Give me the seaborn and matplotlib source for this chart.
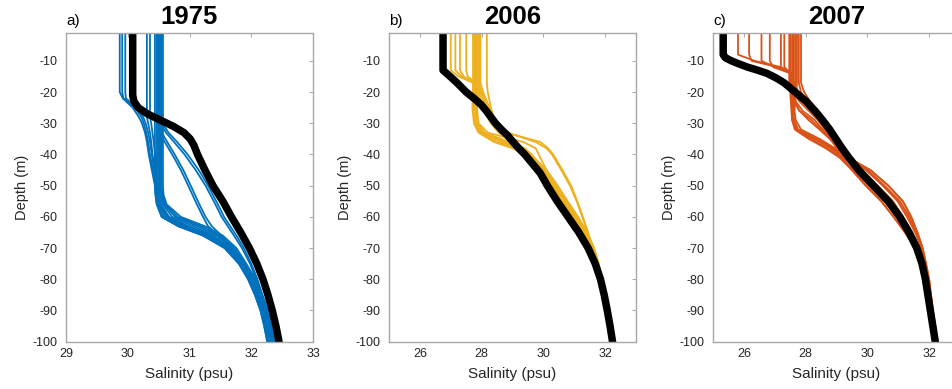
import matplotlib
matplotlib.use("Agg")
import matplotlib.pyplot as plt
import numpy as np
import pandas as pd
import seaborn as sns

# ---------------- Panel a) 1975 ----------------
YEAR_A = "1975"
DEPTH_A = [-1, -20, -22, -25, -28, -30, -33, -36, -40, -45, -50, -53, -56, -60,
           -63, -66, -70, -75, -80, -85, -90, -95, -100]
MEAN_DEPTH_A = [-1, -21, -23, -25, -27, -29, -31, -33, -35, -37, -40, -45, -50, -55,
                -60, -65, -70, -75, -80, -85, -90, -95, -100]
MEAN_A = [30.08, 30.08, 30.10, 30.17, 30.32, 30.53, 30.74, 30.91, 31.01, 31.07, 31.13, 31.25,
          31.38, 31.54, 31.68, 31.83, 31.97, 32.09, 32.19, 32.27, 32.34, 32.40, 32.45]
PROFILES_A = [
    [29.87, 29.87, 29.92, 30.08, 30.18, 30.23, 30.28, 30.31, 30.34, 30.39, 30.44, 30.45, 30.47, 30.55, 30.82, 31.22, 31.57, 31.80, 31.95, 32.06, 32.15, 32.21, 32.26],
    [29.91, 29.91, 29.93, 30.12, 30.22, 30.26, 30.30, 30.33, 30.36, 30.41, 30.45, 30.46, 30.49, 30.58, 30.86, 31.25, 31.58, 31.81, 31.96, 32.07, 32.16, 32.22, 32.27],
    [29.96, 29.96, 29.97, 30.15, 30.25, 30.29, 30.33, 30.36, 30.39, 30.43, 30.47, 30.48, 30.52, 30.63, 30.94, 31.31, 31.62, 31.83, 31.98, 32.09, 32.18, 32.24, 32.29],
    [30.31, 30.31, 30.31, 30.31, 30.31, 30.33, 30.36, 30.38, 30.40, 30.44, 30.47, 30.48, 30.51, 30.62, 30.92, 31.30, 31.61, 31.83, 31.98, 32.09, 32.18, 32.24, 32.29],
    [30.36, 30.36, 30.36, 30.36, 30.36, 30.38, 30.40, 30.42, 30.44, 30.46, 30.48, 30.49, 30.53, 30.66, 30.98, 31.34, 31.64, 31.85, 32.00, 32.11, 32.20, 32.26, 32.31],
    [30.44, 30.44, 30.44, 30.44, 30.44, 30.44, 30.44, 30.44, 30.44, 30.44, 30.44, 30.45, 30.47, 30.55, 30.82, 31.22, 31.57, 31.80, 31.95, 32.06, 32.15, 32.21, 32.26],
    [30.47, 30.47, 30.47, 30.47, 30.47, 30.47, 30.47, 30.47, 30.47, 30.47, 30.47, 30.48, 30.51, 30.61, 30.90, 31.28, 31.60, 31.82, 31.97, 32.08, 32.17, 32.23, 32.28],
    [30.49, 30.49, 30.49, 30.49, 30.49, 30.49, 30.49, 30.49, 30.49, 30.49, 30.49, 30.50, 30.54, 30.67, 30.98, 31.34, 31.64, 31.84, 31.99, 32.10, 32.19, 32.25, 32.30],
    [30.51, 30.51, 30.51, 30.51, 30.51, 30.51, 30.51, 30.51, 30.51, 30.51, 30.51, 30.52, 30.57, 30.72, 31.06, 31.39, 31.67, 31.86, 32.01, 32.12, 32.21, 32.27, 32.32],
    [30.53, 30.53, 30.53, 30.53, 30.53, 30.53, 30.53, 30.53, 30.53, 30.53, 30.53, 30.54, 30.59, 30.77, 31.13, 31.44, 31.70, 31.88, 32.03, 32.14, 32.23, 32.29, 32.34],
    [30.55, 30.55, 30.55, 30.55, 30.55, 30.55, 30.55, 30.55, 30.55, 30.55, 30.55, 30.56, 30.61, 30.81, 31.19, 31.49, 31.73, 31.90, 32.05, 32.16, 32.25, 32.31, 32.36],
    [30.57, 30.57, 30.57, 30.57, 30.57, 30.57, 30.57, 30.57, 30.57, 30.57, 30.57, 30.58, 30.63, 30.86, 31.25, 31.54, 31.76, 31.92, 32.07, 32.18, 32.27, 32.33, 32.38],
    [30.50, 30.50, 30.50, 30.50, 30.50, 30.50, 30.51, 30.60, 30.72, 30.86, 30.98, 31.05, 31.12, 31.22, 31.30, 31.47, 31.68, 31.87, 32.02, 32.13, 32.22, 32.29, 32.34],
    [30.53, 30.53, 30.53, 30.53, 30.53, 30.53, 30.55, 30.64, 30.76, 30.90, 31.02, 31.09, 31.16, 31.26, 31.36, 31.52, 31.70, 31.88, 32.03, 32.14, 32.23, 32.30, 32.35],
    [30.51, 30.51, 30.51, 30.51, 30.51, 30.53, 30.62, 30.75, 30.92, 31.10, 31.26, 31.34, 31.42, 31.52, 31.62, 31.72, 31.85, 31.98, 32.08, 32.16, 32.24, 32.30, 32.36],
    [30.54, 30.54, 30.54, 30.54, 30.54, 30.56, 30.66, 30.80, 30.97, 31.15, 31.30, 31.38, 31.46, 31.56, 31.66, 31.76, 31.88, 32.00, 32.10, 32.18, 32.26, 32.32, 32.38],
]

# ---------------- Panel b) 2006 ----------------
YEAR_B = "2006"
DEPTH_B = [-1, -13, -15, -17, -20, -25, -30, -33, -36, -38, -40, -45, -50, -55, -60,
           -65, -70, -75, -80, -90, -100]
MEAN_DEPTH_B = [-1, -13, -15, -17, -20, -22, -24, -26, -28, -30, -32, -34, -36, -38, -40,
                -43, -46, -50, -55, -60, -65, -70, -75, -80, -85, -90, -95, -100]
MEAN_B = [26.75, 26.75, 26.98, 27.20, 27.50, 27.75, 27.98, 28.15, 28.30, 28.45, 28.64, 28.85,
          29.02, 29.20, 29.40, 29.65, 29.90, 30.13, 30.45, 30.80, 31.15, 31.45, 31.68, 31.85,
          31.97, 32.07, 32.16, 32.24]
PROFILES_B = [
    [27.00, 27.00, 27.25, 27.72, 27.80, 27.78, 27.82, 28.00, 28.65, 29.15, 29.50, 29.95, 30.30, 30.62, 30.98, 31.30, 31.56, 31.73, 31.86, 32.04, 32.20],
    [27.15, 27.15, 27.35, 27.75, 27.85, 28.00, 28.35, 28.65, 29.00, 29.25, 29.55, 30.02, 30.38, 30.70, 31.05, 31.36, 31.60, 31.76, 31.88, 32.05, 32.21],
    [27.30, 27.30, 27.42, 27.78, 27.78, 27.72, 27.78, 27.95, 28.50, 29.10, 29.50, 29.90, 30.24, 30.56, 30.92, 31.26, 31.53, 31.72, 31.85, 32.04, 32.20],
    [27.50, 27.50, 27.55, 27.80, 27.95, 28.15, 28.40, 28.70, 29.05, 29.30, 29.60, 30.10, 30.46, 30.78, 31.12, 31.42, 31.64, 31.79, 31.90, 32.06, 32.22],
    [27.72, 27.72, 27.72, 27.72, 27.72, 27.70, 27.75, 27.90, 28.40, 29.00, 29.45, 29.90, 30.24, 30.56, 30.92, 31.26, 31.53, 31.72, 31.85, 32.04, 32.20],
    [27.76, 27.76, 27.76, 27.76, 27.78, 27.80, 27.85, 28.10, 28.90, 29.40, 29.62, 30.02, 30.38, 30.70, 31.05, 31.36, 31.60, 31.76, 31.88, 32.05, 32.21],
    [27.80, 27.80, 27.80, 27.80, 27.90, 28.05, 28.30, 28.55, 28.95, 29.30, 29.60, 29.95, 30.30, 30.62, 30.98, 31.30, 31.56, 31.73, 31.86, 32.04, 32.20],
    [27.84, 27.84, 27.84, 27.84, 27.84, 27.85, 27.90, 28.20, 29.35, 29.75, 29.85, 30.10, 30.46, 30.78, 31.12, 31.42, 31.64, 31.79, 31.90, 32.06, 32.22],
    [27.88, 27.88, 27.88, 27.88, 28.00, 28.20, 28.45, 28.75, 29.10, 29.35, 29.60, 30.02, 30.38, 30.70, 31.05, 31.36, 31.60, 31.76, 31.88, 32.05, 32.21],
    [27.92, 27.92, 27.92, 27.92, 27.95, 27.85, 27.80, 28.05, 28.75, 29.20, 29.50, 29.95, 30.30, 30.62, 30.98, 31.30, 31.56, 31.73, 31.86, 32.04, 32.20],
    [27.96, 27.96, 27.96, 27.96, 28.05, 28.25, 28.40, 28.80, 29.90, 30.15, 30.32, 30.62, 30.90, 31.10, 31.28, 31.45, 31.60, 31.74, 31.87, 32.05, 32.21],
    [28.17, 28.17, 28.17, 28.17, 28.20, 28.30, 28.45, 28.85, 29.75, 30.10, 30.28, 30.58, 30.86, 31.08, 31.26, 31.44, 31.59, 31.74, 31.87, 32.05, 32.21],
]

# ---------------- Panel c) 2007 ----------------
YEAR_C = "2007"
DEPTH_C = [-1, -8, -10, -12, -14, -17, -20, -23, -26, -29, -32, -35, -38, -41, -45,
           -50, -55, -60, -65, -70, -75, -80, -90, -100]
MEAN_DEPTH_C = [-1, -8, -9, -10, -11, -12, -13, -14, -15.5, -17, -20, -23, -26, -29, -32,
                -35, -38, -41, -45, -50, -55, -60, -65, -70, -75, -80, -85, -90, -95, -100]
MEAN_C = [25.33, 25.33, 25.40, 25.60, 25.85, 26.12, 26.45, 26.75, 27.05, 27.30, 27.66, 28.02,
          28.30, 28.55, 28.78, 28.98, 29.18, 29.40, 29.72, 30.20, 30.68, 31.05, 31.35, 31.60,
          31.77, 31.88, 31.96, 32.04, 32.12, 32.20]
PROFILES_C = [
    [25.81, 25.81, 26.35, 27.20, 27.52, 27.55, 27.55, 27.56, 27.58, 27.62, 27.75, 28.30, 28.80, 29.20, 29.50, 29.95, 30.45, 30.85, 31.22, 31.55, 31.75, 31.88, 32.05, 32.20],
    [26.17, 26.17, 26.25, 27.10, 27.53, 27.62, 27.75, 27.95, 28.20, 28.45, 28.65, 28.82, 29.00, 29.25, 29.65, 30.15, 30.65, 31.03, 31.35, 31.62, 31.80, 31.92, 32.07, 32.22],
    [26.57, 26.57, 26.57, 27.00, 27.55, 27.60, 27.62, 27.68, 27.90, 28.30, 28.55, 28.80, 29.10, 29.45, 29.80, 30.32, 30.82, 31.15, 31.45, 31.68, 31.84, 31.95, 32.09, 32.24],
    [26.84, 26.84, 26.84, 26.95, 27.52, 27.56, 27.56, 27.57, 27.58, 27.60, 27.72, 28.15, 28.70, 29.15, 29.55, 30.05, 30.55, 30.95, 31.30, 31.60, 31.80, 31.92, 32.07, 32.22],
    [27.20, 27.20, 27.20, 27.20, 27.50, 27.58, 27.60, 27.64, 27.80, 28.10, 28.45, 28.78, 29.05, 29.35, 30.00, 30.55, 31.05, 31.35, 31.58, 31.76, 31.88, 31.98, 32.11, 32.26],
    [27.31, 27.31, 27.31, 27.31, 27.52, 27.55, 27.55, 27.55, 27.57, 27.60, 27.68, 28.25, 28.85, 29.30, 29.80, 30.32, 30.82, 31.15, 31.45, 31.68, 31.84, 31.95, 32.09, 32.24],
    [27.47, 27.47, 27.47, 27.47, 27.47, 27.47, 27.50, 27.52, 27.54, 27.56, 27.65, 28.10, 28.65, 29.10, 29.50, 29.95, 30.45, 30.85, 31.22, 31.55, 31.75, 31.88, 32.05, 32.20],
    [27.52, 27.52, 27.52, 27.52, 27.52, 27.52, 27.60, 27.80, 28.10, 28.40, 28.62, 28.82, 29.02, 29.28, 30.10, 30.68, 31.15, 31.42, 31.62, 31.79, 31.90, 32.00, 32.12, 32.27],
    [27.57, 27.57, 27.57, 27.57, 27.57, 27.57, 27.58, 27.62, 27.80, 28.20, 28.50, 28.78, 29.08, 29.42, 30.00, 30.55, 31.05, 31.35, 31.58, 31.76, 31.88, 31.98, 32.11, 32.26],
    [27.62, 27.62, 27.62, 27.62, 27.62, 27.62, 27.62, 27.60, 27.60, 27.62, 27.75, 28.35, 28.90, 29.35, 29.65, 30.15, 30.65, 31.03, 31.35, 31.62, 31.80, 31.92, 32.07, 32.22],
    [27.67, 27.67, 27.67, 27.67, 27.67, 27.67, 27.72, 27.90, 28.15, 28.42, 28.65, 28.85, 29.05, 29.30, 29.80, 30.32, 30.82, 31.15, 31.45, 31.68, 31.84, 31.95, 32.09, 32.24],
    [27.72, 27.72, 27.72, 27.72, 27.72, 27.72, 27.70, 27.66, 27.64, 27.68, 27.85, 28.45, 28.95, 29.40, 30.10, 30.68, 31.15, 31.42, 31.62, 31.79, 31.90, 32.00, 32.12, 32.27],
    [27.78, 27.78, 27.78, 27.78, 27.78, 27.78, 27.85, 28.05, 28.30, 28.55, 28.75, 28.92, 29.10, 29.35, 29.95, 30.50, 30.98, 31.28, 31.55, 31.75, 31.88, 31.98, 32.11, 32.26],
    [27.85, 27.85, 27.85, 27.85, 27.85, 27.85, 27.95, 28.15, 28.40, 28.62, 28.80, 28.95, 29.12, 29.38, 29.55, 30.05, 30.55, 30.95, 31.30, 31.60, 31.80, 31.92, 32.07, 32.22],
]

LABELS = ["a)", "b)", "c)"]
X_LIMITS = [(29, 33), (25, 33), (25, 33)]
X_TICKS = [[29, 30, 31, 32, 33], [26, 28, 30, 32], [26, 28, 30, 32]]
Y_TICKS = [-100, -90, -80, -70, -60, -50, -40, -30, -20, -10]
COLORS = ["#0072BD", "#EDB120", "#D95319"]
X_LABEL = "Salinity (psu)"
Y_LABEL = "Depth (m)"

sns.set_style("white")
plt.rcParams["font.family"] = ["Liberation Sans", "DejaVu Sans"]
plt.rcParams["axes.unicode_minus"] = False

W, H = 952, 389
fig = plt.figure(figsize=(W / 100, H / 100), dpi=100)
lefts = [66, 389, 713]
width_px = 247
top_px, bot_px = 32.8, 341.7

panels = [
    (YEAR_A, DEPTH_A, PROFILES_A, MEAN_DEPTH_A, MEAN_A),
    (YEAR_B, DEPTH_B, PROFILES_B, MEAN_DEPTH_B, MEAN_B),
    (YEAR_C, DEPTH_C, PROFILES_C, MEAN_DEPTH_C, MEAN_C),
]

for k, (year, depth, profiles, mdepth, mean) in enumerate(panels):
    ax = fig.add_axes([lefts[k] / W, 1 - bot_px / H, width_px / W, (bot_px - top_px) / H])
    rows = []
    for i, prof in enumerate(profiles):
        for d, s in zip(depth, prof):
            rows.append((i, d, s))
    df = pd.DataFrame(rows, columns=["profile", "depth", "salinity"])
    sns.lineplot(data=df, x="salinity", y="depth", units="profile", estimator=None,
                 orient="y", sort=True, color=COLORS[k], linewidth=1.3, ax=ax,
                 legend=False, solid_joinstyle="round")
    dfm = pd.DataFrame({"depth": mdepth, "salinity": mean})
    sns.lineplot(data=dfm, x="salinity", y="depth", estimator=None, orient="y",
                 sort=True, color="black", linewidth=5.4, ax=ax, legend=False,
                 solid_joinstyle="round")

    ax.set_xlim(*X_LIMITS[k])
    ax.set_ylim(-100, -1)
    ax.set_xticks(X_TICKS[k])
    ax.set_yticks(Y_TICKS)
    ax.set_xlabel(X_LABEL, fontsize=11, color="#262626", labelpad=5)
    ax.set_ylabel(Y_LABEL, fontsize=10.5, color="#262626", labelpad=2.5)
    ax.tick_params(axis="both", direction="in", top=True, right=True, length=3,
                   width=0.6, color="#9a9a9a", labelcolor="#262626", labelsize=9)
    ax.tick_params(axis="y", pad=6)
    ax.tick_params(axis="x", pad=4.5)
    for sp in ax.spines.values():
        sp.set_color("#a8a8a8")
        sp.set_linewidth(1.0)
    ax.text(0.5, 1 + 8.5 / (bot_px - top_px), year, transform=ax.transAxes,
            ha="center", va="baseline", fontsize=18.5, fontweight="bold", color="black")
    ax.text(0.0, 1 + 8.0 / (bot_px - top_px), LABELS[k], transform=ax.transAxes,
            ha="left", va="baseline", fontsize=11, color="black")

fig.savefig("out.png", dpi=100)
